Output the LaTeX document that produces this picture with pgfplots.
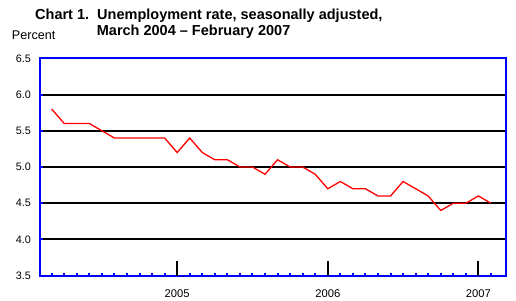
\documentclass[border=0pt]{standalone}
\usepackage{fontspec}
\setmainfont{Liberation Sans}
\usepackage{pgfplots}
\pgfplotsset{compat=1.18}
\begin{document}
\begin{tikzpicture}[x=1bp,y=1bp]
\path[use as bounding box] (-40,-24.3) rectangle (476,275.7);
\begin{axis}[at={(0,0)}, anchor=south west, scale only axis,
  width=465.5bp, height=217.4bp,
  xmin=-0.93, xmax=36.16, ymin=3.5, ymax=6.5,
  axis on top,
  axis line style={draw=blue, line width=2bp},
  tick pos=left, tick align=inside,
  major tick length=3bp,
  xtick={0,...,9,11,12,...,21,23,24,...,33,35},
  xticklabels={},
  xtick style={draw=blue, line width=2bp},
  extra x ticks={10,22,34},
  extra x tick labels={2005,2006,2007},
  extra x tick style={major tick length=15bp, xtick style={draw=black, line width=2bp}},
  xticklabel style={font=\fontsize{11.2bp}{13bp}\selectfont, anchor=base, inner sep=0pt, yshift=-22bp},
  ytick={3.5,4,4.5,5,5.5,6,6.5},
  ytick style={draw=blue, line width=2bp},
  yticklabel style={font=\fontsize{10.8bp}{12bp}\selectfont, anchor=east, inner sep=0pt, xshift=-9bp},
  /pgf/number format/.cd, fixed, fixed zerofill, precision=1, assume math mode=true,
]
\addplot[black, line width=2bp, forget plot] coordinates {(-2,4)(38,4)};
\addplot[black, line width=2bp, forget plot] coordinates {(-2,4.5)(38,4.5)};
\addplot[black, line width=1.2bp, forget plot] coordinates {(-2,5)(38,5)};
\addplot[black, line width=2bp, forget plot] coordinates {(-2,5.5)(38,5.5)};
\addplot[black, line width=2bp, forget plot] coordinates {(-2,6)(38,6)};
\addplot[red, line width=1.3bp] coordinates {
(0,5.8)(1,5.6)(2,5.6)(3,5.6)(4,5.5)(5,5.4)(6,5.4)(7,5.4)(8,5.4)(9,5.4)
(10,5.2)(11,5.4)(12,5.2)(13,5.1)(14,5.1)(15,5.0)(16,5.0)(17,4.9)(18,5.1)(19,5.0)(20,5.0)(21,4.9)
(22,4.7)(23,4.8)(24,4.7)(25,4.7)(26,4.6)(27,4.6)(28,4.8)(29,4.7)(30,4.6)(31,4.4)(32,4.5)(33,4.5)
(34,4.6)(35,4.5)};
\end{axis}
\node[anchor=base west, inner sep=0pt, font=\fontsize{14.5bp}{16bp}\selectfont\bfseries] at (-5,256.7) {Chart 1.\ \ Unemployment rate, seasonally adjusted,};
\node[anchor=base west, inner sep=0pt, font=\fontsize{14.5bp}{16bp}\selectfont\bfseries] at (56.7,240.7) {March 2004 -- February 2007};
\node[anchor=base west, inner sep=0pt, font=\fontsize{12.6bp}{14bp}\selectfont] at (-28.3,236.7) {Percent};
\end{tikzpicture}
\end{document}
